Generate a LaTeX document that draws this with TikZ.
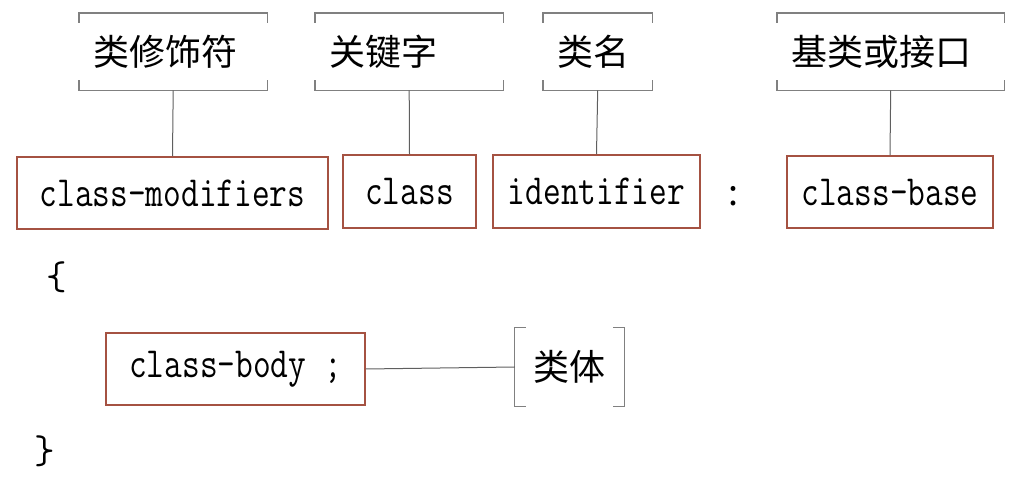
\documentclass[tikz,border=0pt]{standalone}
\usepackage{fontspec}
\usepackage{graphicx}
\newfontfamily\cjk{Noto Sans CJK SC}
\newcommand\tallcode[1]{\scalebox{1}[1.25]{#1}}
\definecolor{boxred}{RGB}{165,82,66}
\definecolor{brkgray}{RGB}{128,128,128}
\definecolor{lnkgray}{RGB}{95,95,95}
\tikzset{
  codebox/.style={draw=boxred, line width=1.6pt, inner sep=0pt, rectangle,
    font=\fontsize{34.4}{40}\selectfont\ttfamily},
  cjklabel/.style={inner ysep=0pt, inner xsep=14pt, align=left, rectangle,
    font=\fontsize{36}{40}\selectfont\cjk},
  brk/.style={draw=brkgray, line width=1.2pt},
  link/.style={draw=lnkgray, line width=1pt},
  plain/.style={inner sep=0pt}
}
\begin{document}
\begin{tikzpicture}[x=1pt,y=-1pt]
\useasboundingbox (0,0) rectangle (1021,478);
% code boxes
\node[codebox, minimum width=311, minimum height=72] (Bmod) at (172.5,193) {\tallcode{class-modifiers}};
\node[codebox, minimum width=133, minimum height=73] (Bcls) at (409.5,191.5) {\tallcode{class}};
\node[codebox, minimum width=207, minimum height=73] (Bid) at (596.5,191.5) {\tallcode{identifier}};
\node[codebox, minimum width=206, minimum height=72] (Bbase) at (890,192) {\tallcode{class-base}};
\node[codebox, minimum width=259, minimum height=72] (Bbody) at (235.5,369) {\tallcode{class-body ;}};
% colon and braces
\node[plain, font=\fontsize{36}{40}\selectfont\cjk] (colon) at (733,196) {:};
\node[plain, font=\fontsize{40}{44}\selectfont\ttfamily] (lbrace) at (57,277) {\{};
\node[plain, font=\fontsize{40}{44}\selectfont\ttfamily] (rbrace) at (45,451) {\}};
% labels (top)
\node[cjklabel, text width=160, minimum height=77, anchor=north west] (Lmod) at (79,13) {类修饰符};
\node[cjklabel, text width=160, minimum height=77, anchor=north west] (Lcls) at (315,13) {关键字};
\node[cjklabel, text width=81, minimum height=77, anchor=north west] (Lid) at (543,13) {类名};
\node[cjklabel, text width=199, minimum height=77, anchor=north west] (Lbase) at (777,13) {基类或接口};
\foreach \n in {Lmod,Lcls,Lid,Lbase}{
  \draw[brk] ([yshift=-10pt]\n.north west) -- (\n.north west) -- (\n.north east) -- ([yshift=-10pt]\n.north east);
  \draw[brk] ([yshift=10pt]\n.south west) -- (\n.south west) -- (\n.south east) -- ([yshift=10pt]\n.south east);
}
% body label
\node[cjklabel, inner xsep=0pt, align=center, minimum width=109, minimum height=78] (Lbody) at (569.5,367) {类体};
\draw[brk] ([xshift=11pt]Lbody.north west) -- (Lbody.north west) -- (Lbody.south west) -- ([xshift=11pt]Lbody.south west);
\draw[brk] ([xshift=-11pt]Lbody.north east) -- (Lbody.north east) -- (Lbody.south east) -- ([xshift=-11pt]Lbody.south east);
% connectors
\draw[link] (Lmod.south) -- (Bmod.north);
\draw[link] (Lcls.south) -- (Bcls.north);
\draw[link] (Lid.south) -- (Bid.north);
\draw[link] (Lbase.south) -- (Bbase.north);
\draw[link] (Bbody.east) -- (Lbody.west);
\end{tikzpicture}
\end{document}
